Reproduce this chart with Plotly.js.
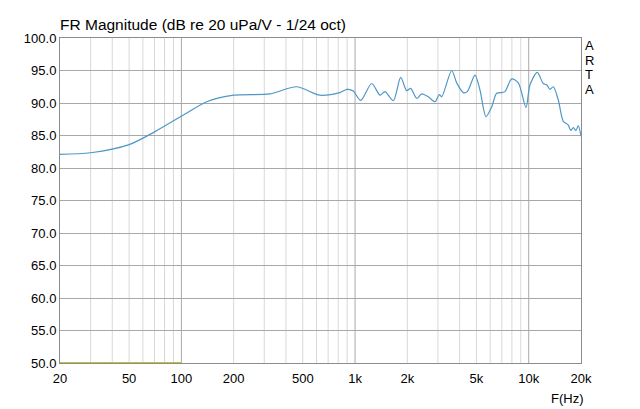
<!DOCTYPE html>
<html><head><meta charset="utf-8">
<script src="https://cdn.plot.ly/plotly-3.0.1.min.js"></script>
<style>html,body{margin:0;padding:0;background:#fff}#chart{width:640px;height:409px}</style>
</head><body><div id="chart"></div>
<script>
const freqHz = [20,30,50,70.5,105,140,200,324,461,628,819,895,914,977,1078,1247,1392,1487,1661,1831,1983,2090,2264,2420,2640,2886,3055,3154,3602,3848,4200,4428,4904,5240,5676,6118,6538,6988,7300,7980,8710,9646,10170,11200,12130,12690,13260,13850,14800,15810,16900,17450,18060,18710,19290,20000];
const magDb = [82.1,82.35,83.6,85.6,88.3,90.2,91.2,91.4,92.5,91.2,91.6,92.1,92.1,91.85,90.4,93.0,91.2,91.75,90.35,93.95,91.9,92.25,90.7,91.4,90.95,90.2,91.3,90.95,95.0,93.1,91.6,91.75,94.3,92.0,87.9,89.4,91.5,91.6,91.75,93.7,93.1,89.3,92.8,94.7,93.0,92.8,92.1,92.5,90.46,87.2,86.6,85.8,86.2,85.8,86.5,84.9];
const refFreq = [20,100];
const refDb = [50,50];
const tickVals = [20,50,100,200,500,1000,2000,5000,10000,20000];
const tickText = ['20','50','100','200','500','1k','2k','5k','10k','20k'];
const titleText = 'FR Magnitude (dB re 20 uPa/V - 1/24 oct)';

const shapes = [];
for (let dec = 10; dec <= 10000; dec *= 10) {
  for (let m = 1; m <= 9; m++) {
    const f = dec * m;
    if (f <= 20 || f >= 20000) continue;
    const major = (m === 1);
    shapes.push({type:'line', xref:'x', yref:'paper', x0:f, x1:f, y0:0, y1:1,
      line:{color: major ? '#a8a8a8' : '#d8d8d8', width:1}, layer:'below'});
  }
}

const traces = [
  {x: refFreq, y: refDb, type:'scatter', mode:'lines', line:{color:'#c2c23a', width:2}, hoverinfo:'skip'},
  {x: freqHz, y: magDb, type:'scatter', mode:'lines', line:{color:'#4f98c6', width:1.2, shape:'spline', smoothing:0.8}}
];
const ann = [];
const letters = ['A','R','T','A'];
const ly = [0.978,0.932,0.889,0.843];
letters.forEach((l,i)=>ann.push({text:l, xref:'paper', yref:'paper', x:1, y:ly[i], xanchor:'left', yanchor:'middle', xshift:2, showarrow:false, font:{size:13, color:'#000'}}));
ann.push({text:'F(Hz)', xref:'paper', yref:'paper', x:0.975, y:-0.108, xanchor:'center', yanchor:'middle', showarrow:false, font:{size:13,color:'#000'}});

const layout = {
  width:640, height:409,
  margin:{l:60, r:59, t:38, b:46},
  paper_bgcolor:'#fff', plot_bgcolor:'#fff',
  showlegend:false,
  font:{family:'Liberation Sans, Arial, sans-serif', color:'#000'},
  title:{text:titleText, x:60/640, xanchor:'left', xref:'container', y:1-25/409, yanchor:'middle', yref:'container', font:{size:15.5, color:'#000'}},
  xaxis:{type:'log', range:[Math.log10(20), Math.log10(20000)], tickvals:tickVals, ticktext:tickText, showgrid:false, zeroline:false,
    showline:true, mirror:true, linecolor:'#8c8c8c', linewidth:1, ticks:'', ticklabelstandoff:3, tickfont:{size:13}},
  yaxis:{range:[50,100], dtick:5, tick0:50, tickformat:'.1f', showgrid:true, gridcolor:'#a8a8a8', zeroline:false,
    showline:true, mirror:true, linecolor:'#8c8c8c', linewidth:1, ticks:'', tickfont:{size:13}},
  shapes:shapes,
  annotations:ann
};
Plotly.newPlot('chart', traces, layout, {staticPlot:true});
</script></body></html>
